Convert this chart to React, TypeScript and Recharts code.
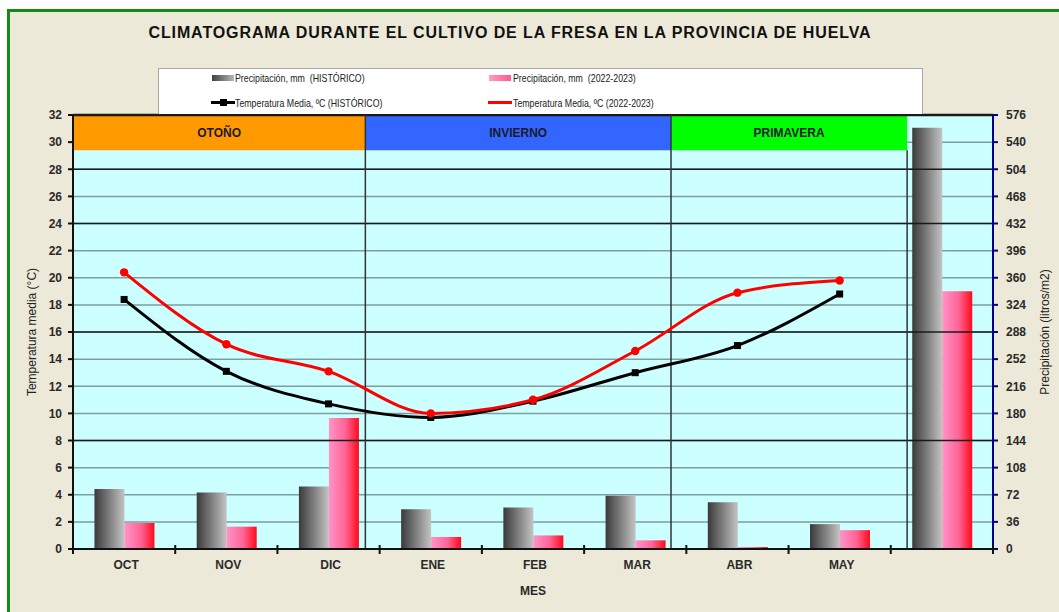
import React from "react";
import {
  ComposedChart,
  Bar,
  Line,
  XAxis,
  YAxis,
  CartesianGrid,
  ReferenceArea,
  ReferenceLine,
} from "recharts";

const months = ["OCT", "NOV", "DIC", "ENE", "FEB", "MAR", "ABR", "MAY", ""];
// precipitación en mm (eje derecho); la última columna es el total de la campaña
const precipHist = [79.6, 75, 83, 52.6, 55, 70.8, 62, 33, 559];
const precip2223 = [34.5, 29.6, 174, 16, 18, 11.5, 2.7, 25, 342];
// temperatura media en ºC (eje izquierdo)
const tempHist = [18.4, 13.1, 10.7, 9.7, 10.9, 13.0, 15.0, 18.8, null];
const temp2223 = [20.4, 15.1, 13.1, 10.0, 11.0, 14.6, 18.9, 19.8, null];

const tempTicks = [0, 2, 4, 6, 8, 10, 12, 14, 16, 18, 20, 22, 24, 26, 28, 30, 32];
const precipTicks = [0, 36, 72, 108, 144, 180, 216, 252, 288, 324, 360, 396, 432, 468, 504, 540, 576];
const darkGrid = [8, 16, 24, 28, 32];

const seasonNames = ["OTOÑO", "INVIERNO", "PRIMAVERA"];
const seasonStart = [0, 2.86, 5.85];
const seasonEnd = [2.86, 5.85, 8.16];
const seasonColors = ["#FF9900", "#3366FF", "#00FF00"];
const seasonBandFloor = 29.4;

const data = months.map((m, i) => ({
  month: m,
  slot: i + 0.5,
  precipHist: precipHist[i],
  precip2223: precip2223[i],
  tempHist: tempHist[i],
  temp2223: temp2223[i],
}));

const FONT = "'Liberation Sans', Arial, sans-serif";
const tickStyle = { fontSize: 12, fontWeight: 700, fill: "#2a2a2a" };

function MonthTick(props: any) {
  const { x, y, payload, index, visibleTicksCount } = props;
  const half = payload && payload.offset ? payload.offset : 0;
  const axisY = y - 11;
  return (
    <g>
      <line x1={x - half} x2={x - half} y1={axisY - 4} y2={axisY + 5} stroke="#111" strokeWidth={2} />
      {index === visibleTicksCount - 1 && (
        <line x1={x + half} x2={x + half} y1={axisY - 4} y2={axisY + 5} stroke="#111" strokeWidth={2} />
      )}
      <text x={x + 2} y={y} dy="0.71em" textAnchor="middle" fontSize={12} fontWeight={700} fill="#2a2a2a">
        {payload.value}
      </text>
    </g>
  );
}

function SquareDot(props: any) {
  const { cx, cy } = props;
  if (cx == null || cy == null) return null;
  return <rect x={cx - 3.5} y={cy - 3.5} width={7} height={7} fill="#000" />;
}

function RoundDot(props: any) {
  const { cx, cy } = props;
  if (cx == null || cy == null) return null;
  return <circle cx={cx} cy={cy} r={4.2} fill="#FF0000" />;
}

function LegendBox() {
  const text: React.CSSProperties = {
    position: "absolute",
    fontSize: 11,
    color: "#222",
    lineHeight: "12px",
    whiteSpace: "nowrap",
    transform: "scaleX(0.8)",
    transformOrigin: "left center",
  };
  return (
    <div
      style={{
        position: "absolute",
        left: 158,
        top: 68,
        width: 763,
        height: 45,
        background: "#fff",
        border: "1px solid #a8a8a8",
        borderBottom: "none",
      }}
    >
      <div
        style={{
          position: "absolute",
          left: 53,
          top: 6,
          width: 22,
          height: 6,
          background: "linear-gradient(90deg, #404040, #b8b8b8)",
        }}
      />
      <div style={{ ...text, left: 76, top: 3 }}>Precipitación, mm&nbsp; (HISTÓRICO)</div>
      <div
        style={{
          position: "absolute",
          left: 330,
          top: 6,
          width: 22,
          height: 6,
          background: "linear-gradient(90deg, #ff9ac8, #ff5a8c)",
        }}
      />
      <div style={{ ...text, left: 354, top: 3 }}>Precipitación, mm&nbsp; (2022-2023)</div>

      <div style={{ position: "absolute", left: 52, top: 32, width: 24, height: 3, background: "#000" }} />
      <div style={{ position: "absolute", left: 61, top: 30, width: 7, height: 7, background: "#000" }} />
      <div style={{ ...text, left: 76, top: 28 }}>Temperatura Media, ºC (HISTÓRICO)</div>
      <div style={{ position: "absolute", left: 329, top: 32, width: 24, height: 3, background: "#FF0000" }} />
      <div style={{ ...text, left: 354, top: 28 }}>Temperatura Media, ºC (2022-2023)</div>
    </div>
  );
}

export default function App() {
  return (
    <div
      style={{
        position: "absolute",
        left: 0,
        top: 0,
        width: 1059,
        height: 612,
        background: "#fff",
        overflow: "hidden",
        fontFamily: FONT,
      }}
    >
      <div
        style={{
          position: "absolute",
          left: 7,
          top: 9,
          width: 1070,
          height: 620,
          border: "3px solid #138c13",
          background: "#ECE9D8",
        }}
      />
      <div
        style={{
          position: "absolute",
          left: 110,
          top: 24,
          width: 800,
          textAlign: "center",
          fontSize: 16,
          fontWeight: 700,
          letterSpacing: 0.9,
          lineHeight: "18px",
          color: "#111",
        }}
      >
        CLIMATOGRAMA DURANTE EL CULTIVO DE LA FRESA EN LA PROVINCIA DE HUELVA
      </div>

      <div style={{ position: "absolute", left: 0, top: 0 }}>
        <ComposedChart
          width={1059}
          height={612}
          data={data}
          margin={{ top: 115, right: 0, bottom: 13, left: 0 }}
          barGap={0}
          barCategoryGap="21%"
          style={{ fontFamily: FONT }}
        >
          <defs>
            <linearGradient id="gGray" x1="0" y1="0" x2="1" y2="0">
              <stop offset="0%" stopColor="#3a3a3a" />
              <stop offset="100%" stopColor="#c4c4c4" />
            </linearGradient>
            <linearGradient id="gPink" x1="0" y1="0" x2="1" y2="0">
              <stop offset="0%" stopColor="#ff94c8" />
              <stop offset="55%" stopColor="#ff6496" />
              <stop offset="100%" stopColor="#ff0a1a" />
            </linearGradient>
          </defs>

          <CartesianGrid
            xAxisId="cat"
            yAxisId="left"
            vertical={false}
            stroke="#809d9d"
            strokeWidth={1.5}
            fill="#CCFFFF"
            fillOpacity={1}
          />

          <XAxis
            xAxisId="cat"
            dataKey="month"
            interval={0}
            tickLine={false}
            tickSize={4}
            tickMargin={7}
            height={50}
            axisLine={{ stroke: "#111", strokeWidth: 2 }}
            tick={<MonthTick />}
            label={{
              value: "MES",
              position: "insideBottom",
              offset: 4,
              fontSize: 12,
              fontWeight: 700,
              fill: "#2a2a2a",
            }}
          />
          <XAxis
            xAxisId="num"
            dataKey="slot"
            type="number"
            domain={[0, 9]}
            hide
            allowDataOverflow
          />

          <YAxis
            yAxisId="left"
            domain={[0, 32]}
            ticks={tempTicks}
            interval={0}
            width={73}
            tickSize={5}
            tickMargin={6}
            tick={tickStyle}
            axisLine={{ stroke: "#111", strokeWidth: 2 }}
            tickLine={{ stroke: "#111", strokeWidth: 2 }}
            label={{
              value: "Temperatura media (°C)",
              angle: -90,
              position: "insideLeft",
              offset: 32,
              fontSize: 12,
              fill: "#222",
              style: { textAnchor: "middle" },
            }}
          />
          <YAxis
            yAxisId="right"
            orientation="right"
            domain={[0, 576]}
            ticks={precipTicks}
            interval={0}
            width={66}
            tickSize={5}
            tickMargin={8}
            tick={tickStyle}
            axisLine={{ stroke: "#00008B", strokeWidth: 2 }}
            tickLine={{ stroke: "#00008B", strokeWidth: 2 }}
            label={{
              value: "Precipitación (litros/m2)",
              angle: -90,
              position: "insideRight",
              offset: 14,
              fontSize: 12,
              fill: "#222",
              style: { textAnchor: "middle" },
            }}
          />

          {darkGrid.map((v) => (
            <ReferenceLine
              key={"g" + v}
              xAxisId="cat"
              yAxisId="left"
              y={v}
              stroke="#1a1a1a"
              strokeWidth={v === 32 ? 2.5 : 1.5}
            />
          ))}

          {seasonNames.map((name, i) => (
            <ReferenceArea
              key={name}
              xAxisId="num"
              yAxisId="left"
              x1={seasonStart[i]}
              x2={seasonEnd[i]}
              y1={seasonBandFloor}
              y2={32}
              fill={seasonColors[i]}
              fillOpacity={1}
              stroke="none"
              label={{ value: name, position: "center", fontSize: 12, fontWeight: 700, fill: "#1a1a2a" }}
            />
          ))}
          <ReferenceLine xAxisId="num" yAxisId="left" x={seasonEnd[0]} stroke="#333" strokeWidth={1.5} />
          <ReferenceLine xAxisId="num" yAxisId="left" x={seasonEnd[1]} stroke="#333" strokeWidth={1.5} />
          <ReferenceLine
            xAxisId="num"
            yAxisId="left"
            segment={[
              { x: seasonEnd[2], y: 0 },
              { x: seasonEnd[2], y: seasonBandFloor },
            ]}
            stroke="#333"
            strokeWidth={1.5}
          />

          <Bar xAxisId="cat" yAxisId="right" dataKey="precipHist" fill="url(#gGray)" isAnimationActive={false} />
          <Bar xAxisId="cat" yAxisId="right" dataKey="precip2223" fill="url(#gPink)" isAnimationActive={false} />

          <Line
            xAxisId="cat"
            yAxisId="left"
            type="monotone"
            dataKey="tempHist"
            stroke="#000"
            strokeWidth={3}
            dot={<SquareDot />}
            activeDot={false}
            isAnimationActive={false}
          />
          <Line
            xAxisId="cat"
            yAxisId="left"
            type="monotone"
            dataKey="temp2223"
            stroke="#FF0000"
            strokeWidth={3}
            dot={<RoundDot />}
            activeDot={false}
            isAnimationActive={false}
          />
        </ComposedChart>
      </div>

      <LegendBox />
    </div>
  );
}
